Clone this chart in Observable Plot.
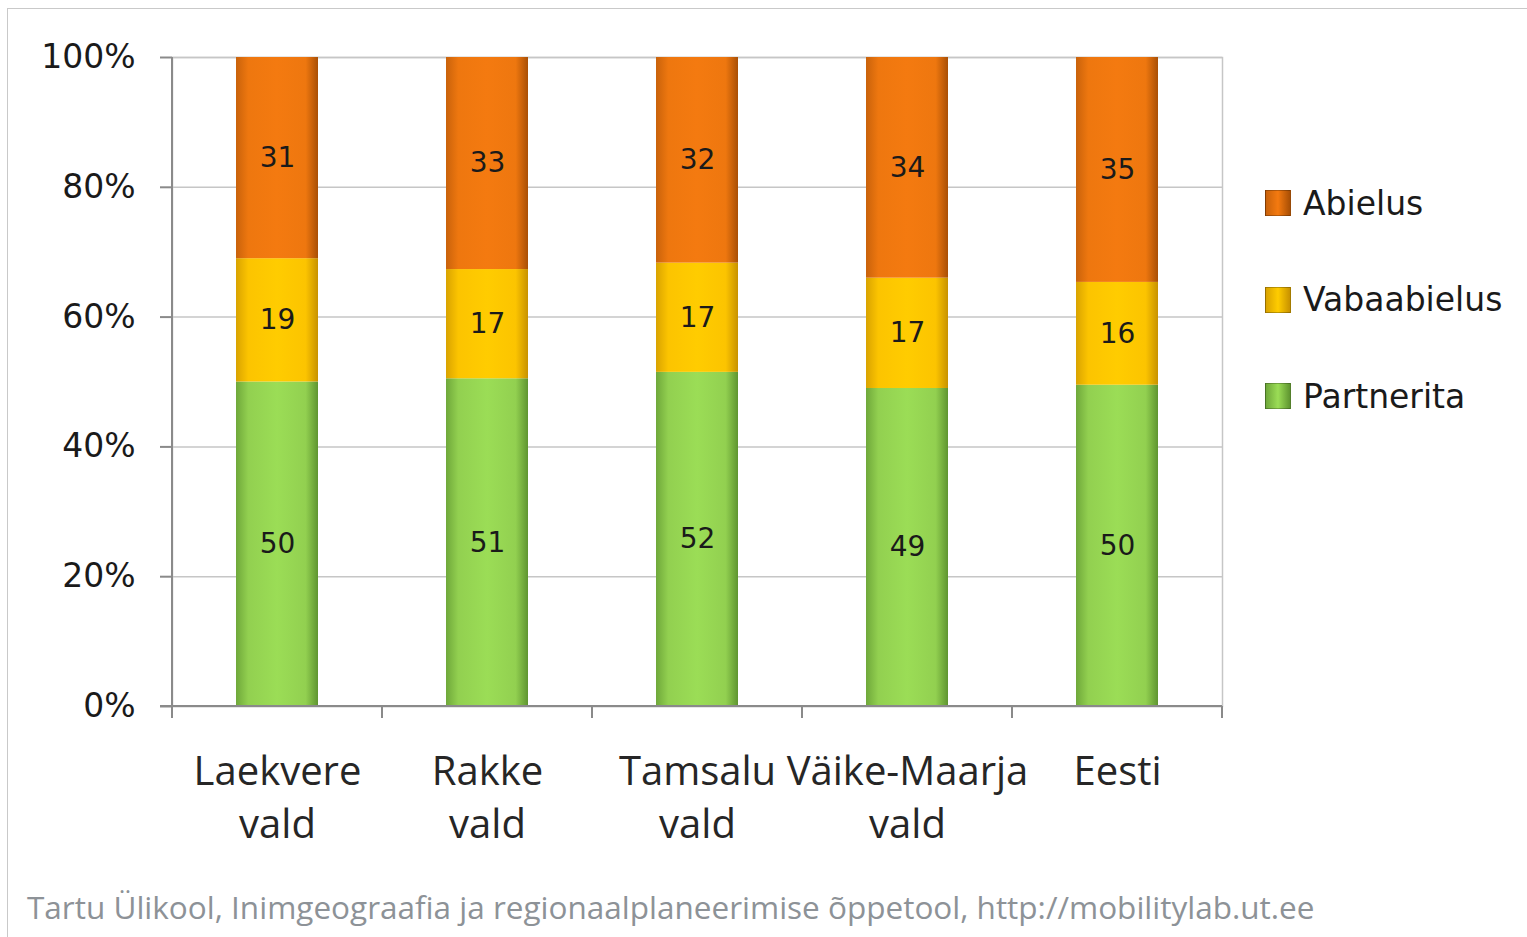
<!DOCTYPE html>
<html><head><meta charset="utf-8">
<script src="https://cdn.jsdelivr.net/npm/d3@7"></script>
<script src="https://cdn.jsdelivr.net/npm/@observablehq/plot@0.6"></script>
<style>
body{margin:0;background:#fff;}
#wrap{position:relative;width:1527px;height:937px;overflow:hidden;background:#fff;}
#border{position:absolute;left:7px;top:8px;width:1540px;height:950px;border-left:1.5px solid #c9c9c9;border-top:1.5px solid #c9c9c9;}
#chart{position:absolute;left:0;top:0;}
#legend{position:absolute;left:1265px;top:155px;font-family:"DejaVu Sans";font-size:33px;color:#1a1a1a;}
.row{height:96.5px;display:flex;align-items:center;}
.sw{width:24px;height:24px;margin-right:12px;border:1px solid rgba(0,0,0,0.25);}
#caption{position:absolute;left:27px;top:887px;height:40px;line-height:40px;font-family:"Open Sans";font-size:31.5px;color:#8d9297;white-space:nowrap;}
</style></head>
<body>
<div id="wrap">
  <div id="border"></div>
  <div id="chart"></div>
  <div id="legend"></div>
  <div id="caption">Tartu Ülikool, Inimgeograafia ja regionaalplaneerimise õppetool, http://mobilitylab.ut.ee</div>
</div>
<script>
const categories = ["Laekvere vald", "Rakke vald", "Tamsalu vald", "Väike-Maarja vald", "Eesti"];
const series = ["Partnerita", "Vabaabielus", "Abielus"];
const partnerita = [50, 51, 52, 49, 50];
const vabaabielus = [19, 17, 17, 17, 16];
const abielus = [31, 33, 32, 34, 35];
const yTicks = [0, 0.2, 0.4, 0.6, 0.8, 1];

const seriesValues = {Partnerita: partnerita, Vabaabielus: vabaabielus, Abielus: abielus};
const gradIds = {Partnerita: "gGreen", Vabaabielus: "gYellow", Abielus: "gOrange"};
const gradStops = {
  Partnerita: ["#6fa83a", "#92d050", "#9bdd56", "#92d050", "#5f9530"],
  Vabaabielus: ["#d9a300", "#fcc400", "#ffcc00", "#fcc400", "#c89200"],
  Abielus: ["#c9620b", "#ee770f", "#f47a10", "#ee770f", "#a94f05"]
};

const rows = [];
categories.forEach((c, i) => {
  series.forEach(s => rows.push({category: c, status: s, value: seriesValues[s][i]}));
});

function bandLines(index, scales, values, dims) {
  const x = scales.x;
  const bw = typeof x.bandwidth === "function" ? x.bandwidth() : x.bandwidth;
  const left = dims.marginLeft, right = dims.width - dims.marginRight;
  const top = dims.marginTop, bottom = dims.height - dims.marginBottom;
  const b = [left];
  for (let i = 1; i < categories.length; i++) b.push((x(categories[i - 1]) + bw + x(categories[i])) / 2);
  b.push(right);
  const g = d3.create("svg:g").attr("stroke", "#8a8a8a").attr("stroke-width", 2);
  g.selectAll("line.t").data(b).join("line").attr("class", "t")
    .attr("x1", d => d).attr("x2", d => d).attr("y1", bottom).attr("y2", bottom + 12);
  g.append("line").attr("x1", left).attr("x2", left).attr("y1", top).attr("y2", bottom);
  g.append("line").attr("x1", left - 12).attr("x2", right).attr("y1", bottom).attr("y2", bottom);
  return g.node();
}

const plot = Plot.plot({
  width: 1527,
  height: 937,
  marginLeft: 172,
  marginRight: 305,
  marginTop: 57,
  marginBottom: 231,
  style: {fontFamily: "DejaVu Sans", color: "#1a1a1a", background: "transparent"},
  x: {domain: categories, paddingInner: 0.61, paddingOuter: 0.305, label: null},
  y: {domain: [0, 1], label: null},
  color: {domain: series, range: series.map(s => `url(#${gradIds[s]})`)},
  marks: [
    Plot.ruleY(yTicks, {stroke: "#c6c6c6", strokeWidth: 1.5}),
    Plot.frame({stroke: "#c6c6c6", strokeWidth: 1.5}),
    Plot.barY(rows, Plot.stackY({x: "category", y: "value", z: "status", fill: "status", offset: "normalize"})),
    Plot.text(rows, Plot.stackY({x: "category", y: "value", z: "status", offset: "normalize", text: "value", fontSize: 28, fill: "#1a1a1a"})),
    Plot.axisY({ticks: yTicks, tickFormat: d3.format(".0%"), tickSize: 12, tickPadding: 25, fontSize: 33, stroke: "#8a8a8a", strokeWidth: 2}),
    Plot.axisX({tickSize: 0, tickPadding: 41, fontSize: 40, fontFamily: "Open Sans", lineHeight: 1.33, fill: "#262626", tickFormat: d => d.replace(" ", "\n")}),
    bandLines
  ]
});

const defs = series.map(s => {
  const st = gradStops[s];
  const offs = [0, 0.15, 0.5, 0.85, 1];
  return `<linearGradient id="${gradIds[s]}" x1="0" x2="1" y1="0" y2="0">` +
    st.map((c, i) => `<stop offset="${offs[i]}" stop-color="${c}"/>`).join("") + `</linearGradient>`;
}).join("");
plot.insertAdjacentHTML("afterbegin", `<defs>${defs}</defs>`);
document.getElementById("chart").appendChild(plot);

const legend = document.getElementById("legend");
series.slice().reverse().forEach(s => {
  const st = gradStops[s];
  const row = document.createElement("div");
  row.className = "row";
  row.innerHTML = `<div class="sw" style="background:linear-gradient(to right, ${st[0]}, ${st[2]}, ${st[4]})"></div><span>${s}</span>`;
  legend.appendChild(row);
});
</script>
</body></html>
